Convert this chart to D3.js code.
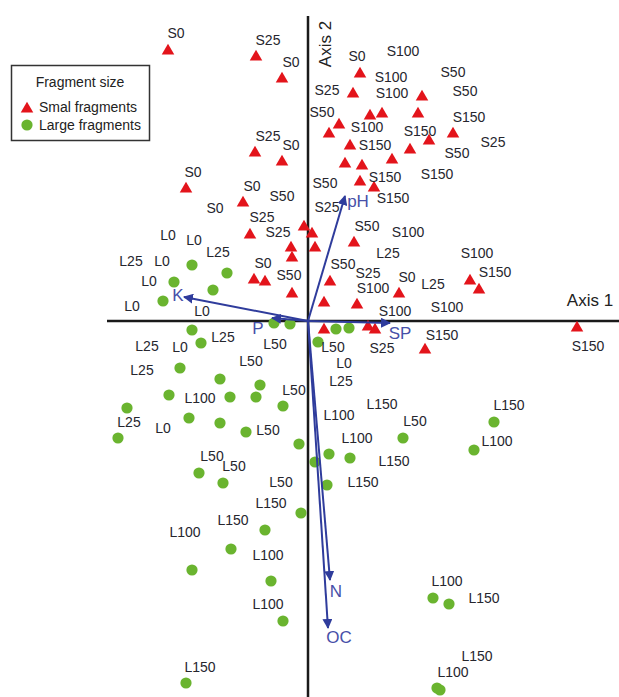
<!DOCTYPE html>
<html>
<head>
<meta charset="utf-8">
<script src="https://cdn.jsdelivr.net/npm/d3@7"></script>
<style>
  html, body { margin: 0; padding: 0; background: #fff; }
  svg { display: block; }
  text { font-family: "Liberation Sans", Arial, sans-serif; }
</style>
</head>
<body>
<svg id="chart" width="619" height="697"></svg>
<script>
// Ordination scores: small fragments (triangles)
const smallFragments = [
  [-1.40, 2.70], [-0.52, 2.64], [-0.26, 2.42], [0.52, 2.47], [0.45, 2.27],
  [0.62, 2.05], [0.74, 2.07], [0.31, 1.96], [0.21, 1.87], [0.42, 1.75],
  [0.37, 1.57], [0.54, 1.55], [0.84, 1.61], [1.02, 1.71], [1.14, 2.24],
  [1.10, 2.07], [1.45, 1.87], [1.21, 1.80], [-0.53, 1.68], [-0.26, 1.59],
  [-1.22, 1.32], [-0.65, 1.18], [-0.58, 0.86], [-0.04, 0.94], [0.04, 0.87],
  [0.07, 0.73], [-0.17, 0.73], [-0.16, 0.63], [-0.54, 0.41], [-0.43, 0.39],
  [-0.16, 0.27], [0.52, 1.39], [0.66, 1.33], [0.46, 0.78], [0.22, 0.39],
  [0.16, 0.18], [0.49, 0.16], [0.91, 0.27], [0.16, -0.09], [0.60, -0.06],
  [0.67, -0.09], [1.62, 0.40], [1.71, 0.31], [2.69, -0.07], [1.17, -0.29]
];

// Ordination scores: large fragments (circles)
const largeFragments = [
  [-1.16, 0.56], [-1.34, 0.39], [-1.45, 0.20], [-1.16, -0.09], [-1.07, -0.22],
  [-0.81, 0.48], [-0.95, 0.31], [-0.34, -0.02], [-0.18, -0.03], [0.10, -0.21],
  [0.28, -0.08], [0.41, -0.07], [-1.28, -0.47], [-1.39, -0.74], [-1.81, -0.87],
  [-1.19, -0.97], [-1.90, -1.17], [-1.09, -1.52], [-0.88, -0.58], [-0.48, -0.64],
  [-0.78, -0.76], [-0.52, -0.76], [-0.25, -0.85], [-0.88, -1.02], [-0.62, -1.11],
  [-0.09, -1.23], [0.07, -1.41], [0.21, -1.33], [0.42, -1.37], [0.19, -1.64],
  [-0.85, -1.62], [-0.07, -1.92], [0.95, -1.17], [-0.43, -2.09], [-0.77, -2.28],
  [-0.37, -2.60], [-0.25, -3.00], [1.86, -1.01], [1.66, -1.29], [-1.16, -2.49],
  [-1.22, -3.62], [1.25, -2.77], [1.41, -2.83], [1.29, -3.67], [1.32, -3.69]
];

// Sample labels (treatment codes) and their positions
const sampleLabels = [
  ["S0", -1.32, 2.87], ["S25", -0.40, 2.80], ["S0", -0.17, 2.58], ["S0", 0.49, 2.64],
  ["S100", 0.95, 2.69], ["S25", 0.19, 2.30], ["S100", 0.83, 2.43], ["S100", 0.84, 2.27],
  ["S50", 1.45, 2.48], ["S50", 1.57, 2.29], ["S50", 0.14, 2.08], ["S100", 0.59, 1.93],
  ["S150", 1.12, 1.89], ["S150", 1.61, 2.03], ["S25", 1.85, 1.78], ["S150", 0.67, 1.75],
  ["S50", 1.49, 1.67], ["S25", -0.40, 1.84], ["S0", -0.17, 1.75], ["S0", -1.15, 1.48],
  ["S50", 0.17, 1.37], ["S150", 0.77, 1.43], ["S150", 1.29, 1.46], ["S150", 0.85, 1.22],
  ["S0", -0.56, 1.34], ["S50", -0.26, 1.24], ["S0", -0.93, 1.12], ["S25", 0.19, 1.13],
  ["S25", -0.46, 1.03], ["S50", 0.59, 0.94], ["S100", 1.00, 0.88], ["S25", -0.30, 0.88],
  ["L25", -0.90, 0.68], ["L25", 0.80, 0.67], ["S100", 1.69, 0.67], ["S0", -0.45, 0.57],
  ["S50", 0.35, 0.56], ["S25", 0.60, 0.47], ["S150", 1.87, 0.48], ["S50", -0.19, 0.45],
  ["S0", 0.99, 0.43], ["L25", 1.25, 0.36], ["S100", 0.65, 0.32], ["S100", 1.39, 0.13],
  ["S100", 0.87, 0.09], ["S150", 1.34, -0.15], ["S150", 2.80, -0.26], ["S25", 0.74, -0.28],
  ["L0", -1.40, 0.85], ["L0", -1.14, 0.80], ["L25", -1.77, 0.59], ["L0", -1.46, 0.59],
  ["L0", -1.59, 0.39], ["L0", -1.76, 0.14], ["L0", -1.06, 0.09], ["L25", -1.61, -0.26],
  ["L0", -1.28, -0.27], ["L25", -0.85, -0.17], ["L50", -0.33, -0.24], ["L50", 0.25, -0.27],
  ["L0", 0.36, -0.43], ["L25", 0.33, -0.61], ["L25", -1.66, -0.50], ["L50", -0.57, -0.41],
  ["L100", -1.08, -0.78], ["L50", -0.14, -0.70], ["L150", 0.74, -0.84], ["L25", -1.79, -1.02],
  ["L0", -1.45, -1.08], ["L50", -0.40, -1.10], ["L100", 0.31, -0.95], ["L100", 0.49, -1.18],
  ["L50", 1.07, -1.01], ["L150", 2.01, -0.85], ["L100", 1.89, -1.21], ["L50", -0.96, -1.36],
  ["L50", -0.74, -1.46], ["L150", 0.86, -1.41], ["L150", 0.55, -1.62], ["L50", -0.27, -1.62],
  ["L150", -0.37, -1.83], ["L150", -0.75, -2.00], ["L100", -1.23, -2.12], ["L100", -0.40, -2.35],
  ["L100", -0.40, -2.84], ["L100", 1.39, -2.61], ["L150", 1.76, -2.78], ["L150", 1.69, -3.36],
  ["L100", 1.45, -3.52], ["L150", -1.08, -3.47]
];

// Environmental vectors: name, tip x, tip y, label x, label y
const vectorNames = ["pH", "K", "P", "SP", "N", "OC"];
const vectorTips = [[0.37, 1.25], [-1.24, 0.24], [-0.36, 0.03], [0.82, -0.02], [0.22, -2.59], [0.20, -3.07]];
const vectorLabelPos = [[0.50, 1.18], [-1.30, 0.24], [-0.50, -0.09], [0.92, -0.14], [0.28, -2.72], [0.31, -3.18]];

const legendItems = ["Smal fragments", "Large fragments"];

const RED = "#e3141b", GREEN = "#6ab42f", BLUE = "#2f3c9c", LBLUE = "#4750a8";

const svg = d3.select("#chart");
const x = d3.scaleLinear().domain([-3.08, 3.11]).range([0, 619]);
const y = d3.scaleLinear().domain([3.21, -3.76]).range([0, 697]);

// Axes through the origin
svg.append("line")
  .attr("x1", x(-2.01)).attr("x2", x(3.11)).attr("y1", y(0)).attr("y2", y(0))
  .attr("stroke", "#1a1a1a").attr("stroke-width", 2.5);
svg.append("line")
  .attr("x1", x(0)).attr("x2", x(0)).attr("y1", y(3.05)).attr("y2", y(-3.76))
  .attr("stroke", "#1a1a1a").attr("stroke-width", 2.5);

svg.append("text").attr("x", x(2.82)).attr("y", y(0.19))
  .attr("text-anchor", "middle").attr("dominant-baseline", "middle")
  .attr("font-size", 17).attr("fill", "#222").text("Axis 1");
svg.append("text")
  .attr("transform", `translate(${x(0.19)},${y(2.77)}) rotate(-90)`)
  .attr("text-anchor", "middle").attr("dominant-baseline", "middle")
  .attr("font-size", 17).attr("fill", "#222").text("Axis 2");

// Arrowhead marker
svg.append("defs").append("marker")
  .attr("id", "head").attr("viewBox", "0 0 10 10")
  .attr("refX", 9).attr("refY", 5)
  .attr("markerWidth", 5).attr("markerHeight", 5)
  .attr("orient", "auto-start-reverse")
  .append("path").attr("d", "M0,0 L10,5 L0,10 Z").attr("fill", BLUE);

// Points
const triangle = d3.symbol().type(d3.symbolTriangle).size(68);
svg.append("g").selectAll("path").data(smallFragments).join("path")
  .attr("d", triangle)
  .attr("transform", d => `translate(${x(d[0])},${y(d[1])})`)
  .attr("fill", RED);

svg.append("g").selectAll("circle").data(largeFragments).join("circle")
  .attr("cx", d => x(d[0])).attr("cy", d => y(d[1])).attr("r", 5.6)
  .attr("fill", GREEN);

// Vectors
svg.append("g").selectAll("line").data(vectorTips).join("line")
  .attr("x1", x(0)).attr("y1", y(0))
  .attr("x2", d => x(d[0])).attr("y2", d => y(d[1]))
  .attr("stroke", BLUE).attr("stroke-width", 2)
  .attr("marker-end", "url(#head)");

svg.append("g").selectAll("text").data(vectorNames).join("text")
  .attr("x", (d, i) => x(vectorLabelPos[i][0]))
  .attr("y", (d, i) => y(vectorLabelPos[i][1]))
  .attr("text-anchor", "middle").attr("dominant-baseline", "middle")
  .attr("font-size", 17).attr("fill", LBLUE).text(d => d);

// Sample labels
svg.append("g").selectAll("text").data(sampleLabels).join("text")
  .attr("x", d => x(d[1])).attr("y", d => y(d[2]))
  .attr("text-anchor", "middle").attr("dominant-baseline", "middle")
  .attr("font-size", 14).attr("fill", "#26262e").text(d => d[0]);

// Legend
const lg = svg.append("g");
lg.append("rect").attr("x", 11.5).attr("y", 65.5).attr("width", 138).attr("height", 75)
  .attr("fill", "#fff").attr("stroke", "#333").attr("stroke-width", 1.5);
lg.append("text").attr("x", 80).attr("y", 83)
  .attr("text-anchor", "middle").attr("dominant-baseline", "middle")
  .attr("font-size", 14).attr("fill", "#222").text("Fragment size");
lg.append("path").attr("d", triangle).attr("transform", "translate(27,109)").attr("fill", RED);
lg.append("circle").attr("cx", 27).attr("cy", 125).attr("r", 5.6).attr("fill", GREEN);
lg.selectAll("text.item").data(legendItems).join("text").attr("class", "item")
  .attr("x", 39).attr("y", (d, i) => 108 + i * 18)
  .attr("dominant-baseline", "middle")
  .attr("font-size", 14).attr("fill", "#222").text(d => d);
</script>
</body>
</html>
